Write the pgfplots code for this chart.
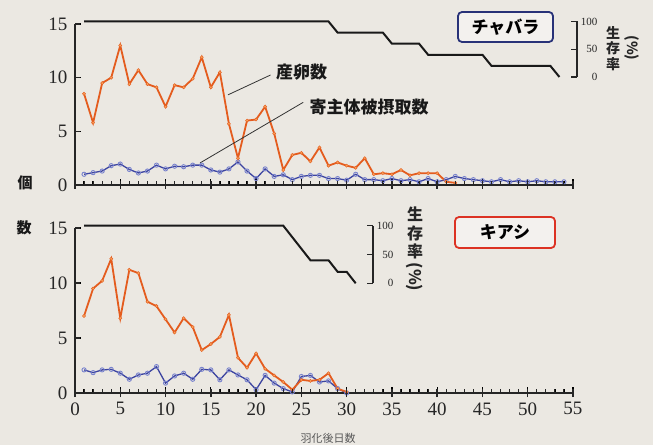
\documentclass[border=0pt]{standalone}
\usepackage{pgfplots}
\usepackage{pgfplotstable}
\pgfplotsset{compat=1.18}
\usepackage{fontspec}
\setmainfont{Liberation Serif}
\newfontfamily\cjk{Noto Sans CJK JP}
\definecolor{bg}{RGB}{235,232,226}
\definecolor{orl}{RGB}{228,92,30}
\definecolor{orm}{RGB}{248,160,90}
\definecolor{bll}{RGB}{60,68,160}
\definecolor{blm}{RGB}{120,130,205}
\definecolor{navy}{RGB}{40,50,120}
\definecolor{redb}{RGB}{220,50,35}

\pgfplotstableread{
d v
1 8.5
2 5.8
3 9.5
4 10.0
5 13.0
6 9.4
7 10.7
8 9.4
9 9.1
10 7.3
11 9.3
12 9.1
13 9.9
14 11.9
15 9.1
16 10.5
17 5.7
18 2.5
19 6.0
20 6.1
21 7.3
22 4.8
23 1.4
24 2.8
25 3.0
26 2.2
27 3.5
28 1.8
29 2.1
30 1.8
31 1.6
32 2.5
33 1.0
34 1.1
35 1.0
36 1.4
37 0.9
38 1.1
39 1.1
40 1.1
41 0.3
42 0.2
}\topegg

\pgfplotstableread{
d v
1 1.0
2 1.15
3 1.3
4 1.8
5 1.95
6 1.45
7 1.12
8 1.3
9 1.85
10 1.5
11 1.75
12 1.7
13 1.85
14 1.85
15 1.4
16 1.2
17 1.5
18 2.15
19 1.3
20 0.6
21 1.5
22 0.8
23 0.95
24 0.5
25 0.8
26 0.9
27 0.9
28 0.6
29 0.6
30 0.45
31 1.0
32 0.5
33 0.5
34 0.4
35 0.6
36 0.4
37 0.5
38 0.3
39 0.6
40 0.3
41 0.5
42 0.8
43 0.6
44 0.5
45 0.4
46 0.3
47 0.5
48 0.3
49 0.4
50 0.3
51 0.4
52 0.3
53 0.3
54 0.3
}\tophost

\pgfplotstableread{
d v
1 100
28 100
29 80
34 80
35 60
38 60
39 40
45 40
46 20
52.5 20
53.5 0
}\topsurv

\pgfplotstableread{
d v
1 7.0
2 9.5
3 10.2
4 12.2
5 6.8
6 11.2
7 10.9
8 8.3
9 7.9
10 6.7
11 5.5
12 6.8
13 6.0
14 3.9
15 4.45
16 5.1
17 7.1
18 3.2
19 2.3
20 3.6
21 2.2
22 1.6
23 1.0
24 0.3
25 1.2
26 1.1
27 1.2
28 1.8
29 0.4
30 0.1
}\botegg

\pgfplotstableread{
d v
1 2.1
2 1.85
3 2.1
4 2.15
5 1.8
6 1.25
7 1.64
8 1.8
9 2.4
10 0.9
11 1.55
12 1.8
13 1.25
14 2.15
15 2.1
16 1.2
17 2.1
18 1.64
19 1.2
20 0.3
21 1.6
22 0.9
23 0.4
24 0.1
25 1.5
26 1.6
27 1.0
28 1.1
29 0.4
30 0.0
}\bothost

\pgfplotstableread{
d v
1 100
23 100
26 40
28 40
29 20
30 20
31 0
}\botsurv

\pgfplotsset{
 mainax/.style={
  scale only axis, width=498pt, xmin=0, xmax=55, ymin=0, ymax=15,
  axis x line=bottom, axis y line=left,
  x axis line style={-, line width=1.4pt, black!85},
  y axis line style={-, line width=1.4pt, black!85},
  xtick={0,5,...,55}, ytick={0,5,10,15},
  minor x tick num=4,
  tick align=inside, major tick length=6pt, minor tick length=4pt,
  every tick/.append style={black, line width=1.3pt},
  ticklabel style={font=\fontsize{19}{19}\selectfont, black!85},
  /pgf/number format/assume math mode=true,
  yticklabel style={xshift=-4pt},
  xticklabel style={yshift=-6pt},
  clip=false, anchor=south west,
 },
 survax/.style={
  scale only axis, axis x line=none, axis y line=right,
  y axis line style={-, line width=1.4pt, black!85},
  ymin=0, ymax=100, ytick={0,50,100}, xmin=0,
  tick align=inside, major tick length=6pt,
  tick style={black!85, line width=1.2pt},
  /pgf/number format/assume math mode=true,
  yticklabel style={font=\fontsize{11}{11}\selectfont, anchor=east, xshift=24pt, black!85},
  anchor=south west, clip=false,
 },
 egg/.style={orl, line width=1.8pt, mark=*, mark size=1.6pt, mark options={fill=orm, draw=orl, line width=0.4pt}},
 host/.style={bll, line width=1.3pt, mark=o, mark size=2.1pt, mark options={blm, line width=0.9pt}},
 surv/.style={black!90, line width=2pt, no marks},
}

\begin{document}
\begin{tikzpicture}[x=1pt,y=1pt]
\fill[bg] (0,0) rectangle (653,445);

% ---------- top panel ----------
\begin{axis}[mainax, at={(75pt,260pt)}, height=161pt, xticklabels={}]
\addplot[host] table[x=d,y=v] {\tophost};
\addplot[egg] table[x=d,y=v] {\topegg};
\draw[black!80, line width=0.8pt] (axis cs:16.9,8.4) -- (axis cs:21.6,10.25);
\node[anchor=west, font=\cjk\bfseries\fontsize{17}{17}\selectfont, black!90, inner sep=0pt] at (axis cs:22.2,10.5) {産卵数};
\draw[black!80, line width=0.8pt] (axis cs:13.8,2.05) -- (axis cs:25.2,7.7);
\node[anchor=west, font=\cjk\bfseries\fontsize{17}{17}\selectfont, black!90, inner sep=0pt] at (axis cs:25.9,7.25) {寄主体被摂取数};
\end{axis}
\begin{axis}[survax, at={(75pt,368pt)}, width=502pt, height=55.5pt, xmax=55.44]
\addplot[surv] table[x=d,y=v] {\topsurv};
\end{axis}

% ---------- bottom panel ----------
\begin{axis}[mainax, at={(75pt,52pt)}, height=165pt]
\addplot[host] table[x=d,y=v] {\bothost};
\addplot[egg] table[x=d,y=v] {\botegg};
\end{axis}
\begin{axis}[survax, at={(75pt,161.7pt)}, width=298pt, height=57.6pt, xmax=32.91]
\addplot[surv] table[x=d,y=v] {\botsurv};
\end{axis}

% ---------- texts ----------
\node[draw=navy, line width=1.8pt, rounded corners=4pt, fill=bg!60!white, minimum width=95pt, minimum height=30pt, font=\cjk\bfseries\fontsize{17}{17}\selectfont] at (505.5,418) {チャバラ};
\node[draw=redb, line width=1.8pt, rounded corners=4pt, fill=bg!60!white, minimum width=100pt, minimum height=31pt, font=\cjk\bfseries\fontsize{17}{17}\selectfont] at (505,212.5) {キアシ};

\begin{scope}[font=\cjk\bfseries\fontsize{14}{14}\selectfont, black!85]
\node at (613,412) {生};
\node at (613,397) {存};
\node at (613,381) {率};
\node[rotate=-90] at (632,397) {(\%)};
\end{scope}
\begin{scope}[font=\cjk\bfseries\fontsize{16}{16}\selectfont, black!85]
\node at (415,231) {生};
\node at (415,212) {存};
\node at (415,194) {率};
\node[rotate=-90] at (415,168) {(\%)};
\end{scope}

\node[font=\cjk\bfseries\fontsize{15}{15}\selectfont, black!90] at (25,262) {個};
\node[font=\cjk\bfseries\fontsize{15}{15}\selectfont, black!90] at (24,217) {数};
\node[font=\cjk\fontsize{11}{11}\selectfont, black!65] at (328,7) {羽化後日数};

% tick marks on the picture's own grid, matching axis placement (day d at 75+9.0545 d)
\foreach \i in {0,...,55} {\draw[black!85, line width=1pt] ({75+9.0545*\i},52) -- ++(0,4);
                           \draw[black!85, line width=1pt] ({75+9.0545*\i},260) -- ++(0,4);}
\foreach \i in {0,5,...,55} {\draw[black!85, line width=1.4pt] ({75+9.0545*\i},48) -- ++(0,8);
                             \draw[black!85, line width=1.4pt] ({75+9.0545*\i},256) -- ++(0,8);}
\foreach \v in {313.67,367.33,421} {\draw[black!85, line width=1.4pt] (75,\v) -- ++(5,0);}
\foreach \v in {107,162,217} {\draw[black!85, line width=1.4pt] (75,\v) -- ++(5,0);}
\end{tikzpicture}
\end{document}
